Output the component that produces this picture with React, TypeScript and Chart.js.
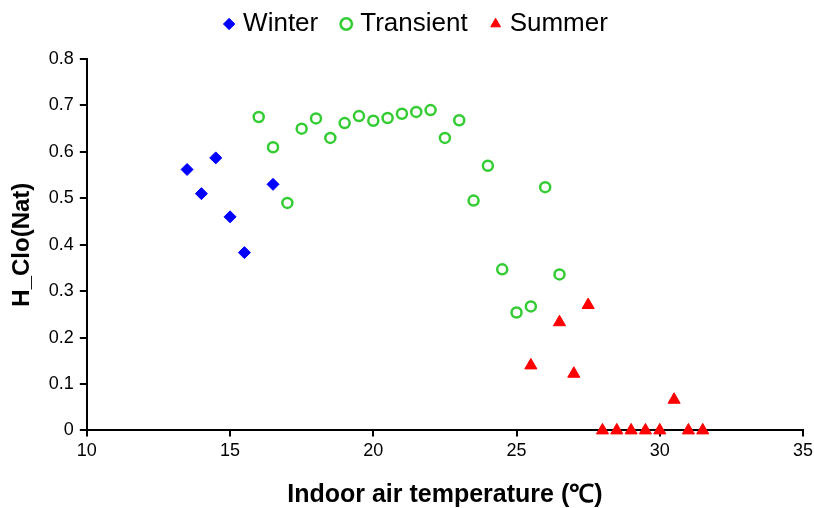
import React, { useEffect, useRef } from "react";
import { Chart, registerables } from "chart.js";

Chart.register(...registerables);

const winterX = [13.5, 14, 14.5, 15, 15.5, 16.5];
const winterY = [0.562, 0.51, 0.587, 0.46, 0.383, 0.53];

const transientX = [16, 16.5, 17, 17.5, 18, 18.5, 19, 19.5, 20, 20.5, 21, 21.5, 22, 22.5, 23, 23.5, 24, 24.5, 25, 25.5, 26, 26.5];
const transientY = [0.675, 0.61, 0.49, 0.65, 0.672, 0.63, 0.662, 0.677, 0.667, 0.673, 0.682, 0.686, 0.69, 0.63, 0.668, 0.495, 0.57, 0.347, 0.254, 0.267, 0.524, 0.336];

const summerX = [25.5, 26.5, 27, 27.5, 28, 28.5, 29, 29.5, 30, 30.5, 31, 31.5];
const summerY = [0.14, 0.233, 0.122, 0.27, 0, 0, 0, 0, 0, 0.066, 0, 0];

const seriesNames = ["Winter", "Transient", "Summer"];
const xTitle = "Indoor air temperature (℃)";
const yTitle = "H_Clo(Nat)";

function pts(xs: number[], ys: number[]) {
  return xs.map((x, i) => ({ x, y: ys[i] }));
}

const legendMargin = {
  id: "legendMargin",
  beforeInit(chart: any) {
    const lg = chart.legend;
    if (!lg) return;
    const origFit = lg.fit;
    lg.fit = function () {
      origFit.call(this);
      this.height += 13;
    };
    const origDraw = lg.draw;
    lg.draw = function () {
      const c = this.ctx;
      c.save();
      c.translate(7, 1);
      origDraw.call(this);
      c.restore();
    };
  },
};

export default function App() {
  const ref = useRef<HTMLCanvasElement | null>(null);
  useEffect(() => {
    document.body.style.margin = "0";
    const ctx = ref.current!.getContext("2d")!;
    const font = "'Liberation Sans', Arial, sans-serif";
    const chart = new Chart(ctx, {
      type: "scatter",
      data: {
        datasets: [
          {
            label: seriesNames[0],
            data: pts(winterX, winterY),
            pointStyle: "rectRot",
            pointRadius: 6,
            backgroundColor: "#0000ff",
            borderColor: "#0000ff",
            borderWidth: 1,
            clip: false,
          },
          {
            label: seriesNames[1],
            data: pts(transientX, transientY),
            pointStyle: "circle",
            pointRadius: 5,
            backgroundColor: "rgba(0,0,0,0)",
            borderColor: "#33cc33",
            borderWidth: 2.5,
            clip: false,
          },
          {
            label: seriesNames[2],
            data: pts(summerX, summerY),
            pointStyle: "triangle",
            pointRadius: 7,
            backgroundColor: "#ff0000",
            borderColor: "#ff0000",
            borderWidth: 1,
            clip: false,
          },
        ],
      },
      plugins: [legendMargin],
      options: {
        animation: false,
        responsive: false,
        layout: { padding: { left: 8, right: 0, top: -17, bottom: -2 } },
        plugins: {
          tooltip: { enabled: false },
          legend: {
            position: "top",
            labels: {
              usePointStyle: true,
              boxWidth: 2,
              boxHeight: 8,
              padding: 27,
              color: "#000",
              font: { family: font, size: 26 },
            },
          },
        },
        scales: {
          x: {
            type: "linear",
            min: 10,
            max: 35,
            afterFit: (scale: any) => {
              scale.paddingRight = 11;
            },
            ticks: { stepSize: 5, color: "#000", font: { family: font, size: 18 }, padding: 4 },
            grid: { display: true, drawOnChartArea: false, drawTicks: true, tickLength: 6, color: "#000", lineWidth: 2 },
            border: { display: true, color: "#000", width: 2 },
            title: { display: true, text: xTitle, color: "#000", font: { family: font, size: 25, weight: "bold" }, padding: { top: 14, bottom: 0 } },
          },
          y: {
            type: "linear",
            min: 0,
            max: 0.8,
            ticks: {
              stepSize: 0.1,
              color: "#000",
              font: { family: font, size: 18 },
              padding: 6,
              callback: (v: any) => (Number(v) === 0 ? "0" : Number(v).toFixed(1)),
            },
            grid: { display: true, drawOnChartArea: false, drawTicks: true, tickLength: 7, color: "#000", lineWidth: 2 },
            border: { display: true, color: "#000", width: 2 },
            title: { display: true, text: yTitle, color: "#000", font: { family: font, size: 24, weight: "bold" }, padding: { top: 0, bottom: 6 } },
          },
        },
      },
    });
    return () => chart.destroy();
  }, []);
  return <canvas ref={ref} width={814} height={508} style={{ display: "block" }} />;
}
